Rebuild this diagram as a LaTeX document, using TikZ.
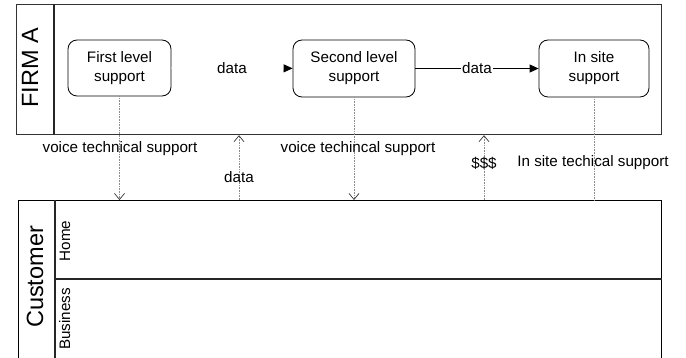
\documentclass[tikz,border=0pt]{standalone}
\usepackage{fontspec}
\setmainfont{Liberation Sans}
\usetikzlibrary{arrows.meta}
\begin{document}
\begin{tikzpicture}[x=1pt,y=-1pt,
  font=\fontsize{15.2}{19}\selectfont,
  pool/.style={draw=black!80, line width=1.2pt, inner sep=0pt, anchor=north west},
  divider/.style={draw=black!85, line width=1.1pt},
  box/.style={draw, rounded corners=9pt, line width=0.8pt, align=center, inner sep=0pt},
  msg/.style={draw=black!45, densely dotted, line width=0.6pt},
  barb/.style={-{Straight Barb[length=6pt,width=10pt,color=black!80,line width=0.7pt]}},
  flow/.style={line width=0.8pt, -{Triangle[length=9pt,width=8pt]}},
  lbl/.style={anchor=base, inner sep=0pt},
  big/.style={font=\fontsize{23.5}{26}\selectfont, rotate=90, anchor=base, inner sep=0pt},
  lane/.style={rotate=90, anchor=base, inner sep=0pt}
]
\useasboundingbox (0,0) rectangle (686,358);
\clip (0,0) rectangle (686,358);

% pools
\node[pool, minimum width=645pt, minimum height=130pt] (firm) at (16,4) {};
\node[pool, draw=black, minimum width=643pt, minimum height=190pt] (cust) at (18,200) {};
\draw[divider] ([xshift=38pt]firm.north west) -- ([xshift=38pt]firm.south west);
\draw[divider] ([xshift=37pt]cust.north west) -- ([xshift=37pt]cust.south west);
\coordinate (laneL) at (55,279);
\draw[divider] (laneL) -- (laneL -| cust.east);

\node[big] (firmlbl) at (38,68) {FIRM A};
\node[big] (custlbl) at (43,277) {Customer};
\node[lane] (home) at (70,241) {Home};
\node[lane] (business) at (70,319) {Business};

% tasks
\node[box, minimum width=103pt, minimum height=56pt] (first) at (119.5,68) {First level\\support};
\node[box, minimum width=122pt, minimum height=57pt] (second) at (354,68.5) {Second level\\support};
\node[box, minimum width=110pt, minimum height=57pt] (insite) at (594,68.5) {In site\\support};

% sequence flows
\draw[flow, draw=white, -{Triangle[length=9pt,width=8pt,color=black,fill=black]}] (first) -- node[inner sep=1pt, text=black] {data} (second);
\draw[flow] (second) -- node[fill=white, inner sep=1pt] {data} (insite);

% message flows
\coordinate (d1) at (239,200);
\coordinate (d2) at (484,200);
\draw[msg, barb] (first.south) -- (first.south |- cust.north);
\draw[msg, barb] (d1) -- (d1 |- firm.south);
\draw[msg, barb] (second.south) -- (second.south |- cust.north);
\draw[msg, barb] (d2) -- (d2 |- firm.south);
\draw[msg] (insite.south) -- (insite.south |- cust.north);

% message labels
\node[lbl] (l1) at (120,153) {voice technical support};
\node[lbl] (l2) at (239,183) {data};
\node[lbl] (l3) at (358,153) {voice techincal support};
\node[lbl] (l4) at (484,169) {\$\$\$};
\node[lbl] (l5) at (593,167) {In site techical support};
\end{tikzpicture}
\end{document}
